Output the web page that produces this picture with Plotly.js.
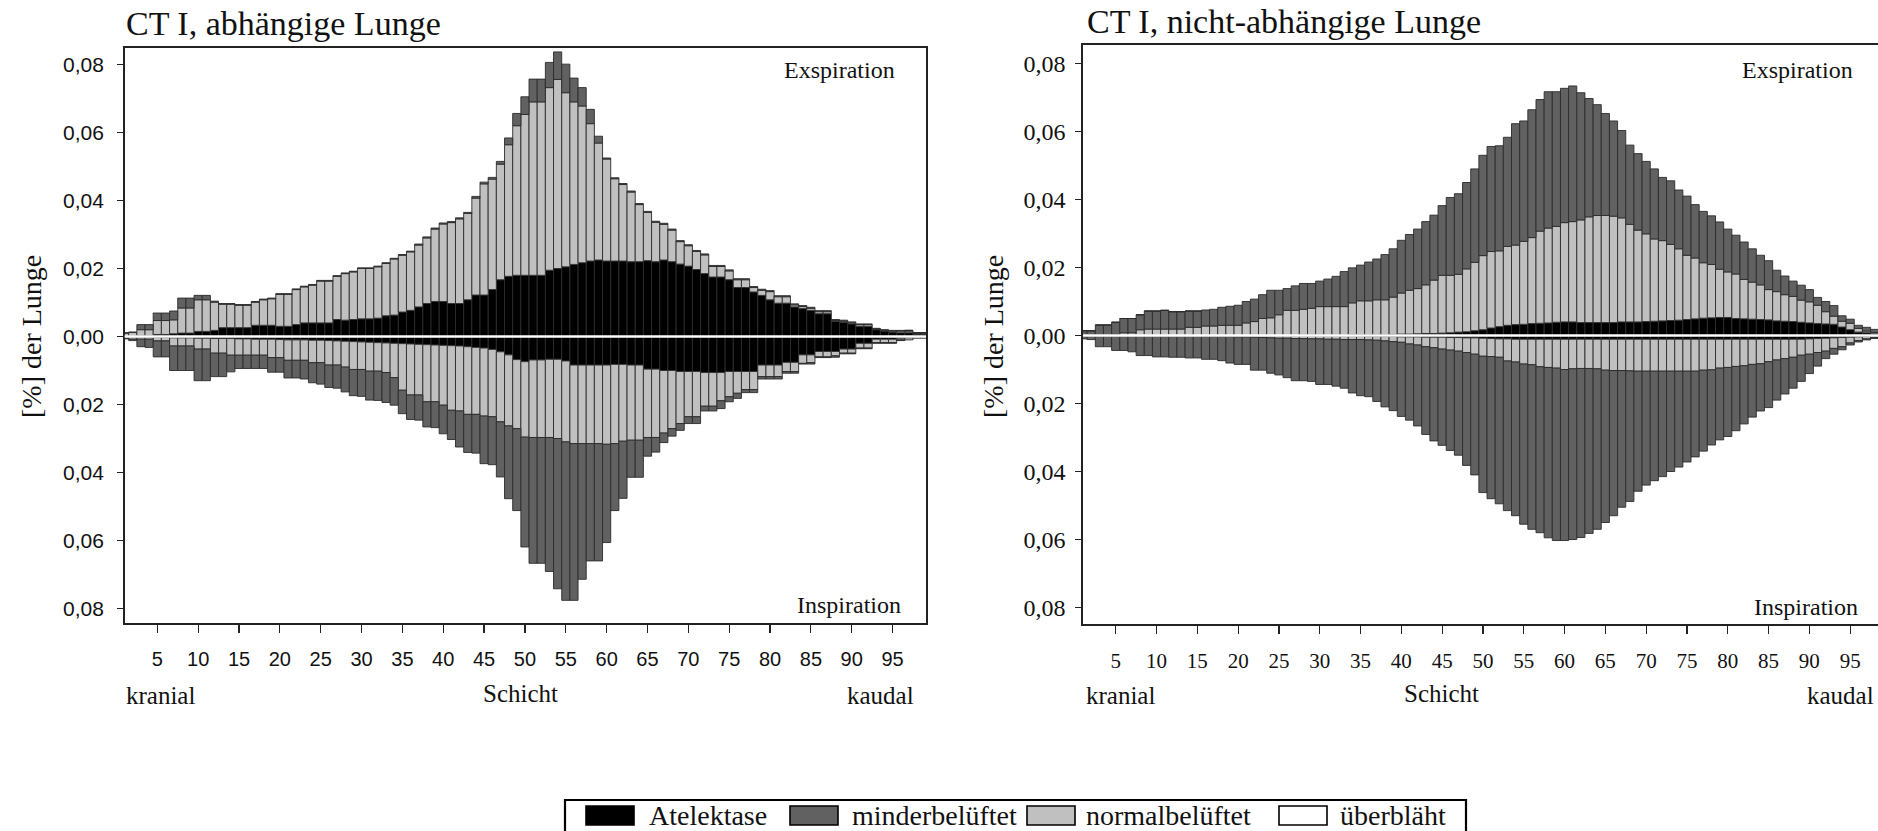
<!DOCTYPE html>
<html><head><meta charset="utf-8">
<script src="https://cdn.plot.ly/plotly-3.0.1.min.js"></script>
<style>html,body{margin:0;padding:0;background:#fff;}#chart{width:1878px;height:831px;}</style>
</head><body><div id="chart"></div>
<script>
// ---------- data (cumulative upper edges of the stacked segments, per slice 1..99) ----------
const seriesNames = ['Atelektase','minderbelüftet','normalbelüftet','überbläht'];
const xTickVals = [5,10,15,20,25,30,35,40,45,50,55,60,65,70,75,80,85,90,95];
const yTickVals = [-0.08,-0.06,-0.04,-0.02,0,0.02,0.04,0.06,0.08];
const yTickText = ['0,08','0,06','0,04','0,02','0,00','0,02','0,04','0,06','0,08'];

// left panel: CT I, abhängige Lunge — Exspiration (upwards)
const lExpA = [0.0001,0.0001,0.0002,0.0002,0.0006,0.0006,0.0008,0.0010,0.0010,0.0015,
0.0015,0.0018,0.0026,0.0026,0.0026,0.0026,0.0033,0.0033,0.0033,0.0030,
0.0030,0.0035,0.0040,0.0040,0.0040,0.0040,0.0050,0.0048,0.0050,0.0052,
0.0052,0.0054,0.0061,0.0063,0.0072,0.0077,0.0087,0.0097,0.0103,0.0103,
0.0097,0.0097,0.0108,0.0122,0.0122,0.0138,0.0167,0.0177,0.0180,0.0180,
0.0180,0.0180,0.0195,0.0200,0.0205,0.0212,0.0217,0.0222,0.0225,0.0222,
0.0222,0.0222,0.0220,0.0220,0.0223,0.0220,0.0225,0.0220,0.0213,0.0207,
0.0197,0.0185,0.0175,0.0175,0.0167,0.0144,0.0144,0.0131,0.0121,0.0108,
0.0098,0.0098,0.0087,0.0082,0.0077,0.0067,0.0067,0.0044,0.0042,0.0037,
0.0030,0.0030,0.0020,0.0016,0.0013,0.0011,0.0011,0.0007,0.0006];
const lExpN = [0.0010,0.0012,0.0020,0.0020,0.0047,0.0047,0.0049,0.0084,0.0084,0.0108,
0.0108,0.0101,0.0095,0.0095,0.0092,0.0092,0.0101,0.0108,0.0111,0.0124,
0.0124,0.0138,0.0146,0.0151,0.0163,0.0163,0.0177,0.0185,0.0190,0.0200,
0.0200,0.0205,0.0215,0.0228,0.0239,0.0249,0.0269,0.0290,0.0316,0.0331,
0.0335,0.0346,0.0362,0.0407,0.0449,0.0463,0.0507,0.0564,0.0620,0.0653,
0.0690,0.0690,0.0732,0.0756,0.0717,0.0690,0.0678,0.0626,0.0569,0.0522,
0.0464,0.0447,0.0425,0.0388,0.0365,0.0336,0.0330,0.0313,0.0279,0.0267,
0.0250,0.0240,0.0206,0.0206,0.0193,0.0167,0.0167,0.0144,0.0136,0.0132,
0.0117,0.0117,0.0093,0.0088,0.0083,0.0073,0.0073,0.0047,0.0045,0.0040,
0.0035,0.0035,0.0022,0.0018,0.0016,0.0016,0.0016,0.0010,0.0010];
const lExpM = [0.0011,0.0013,0.0035,0.0035,0.0069,0.0069,0.0075,0.0113,0.0113,0.0121,
0.0121,0.0104,0.0097,0.0097,0.0094,0.0094,0.0103,0.0110,0.0113,0.0126,
0.0126,0.0140,0.0148,0.0153,0.0165,0.0165,0.0179,0.0187,0.0192,0.0202,
0.0202,0.0207,0.0217,0.0230,0.0241,0.0251,0.0272,0.0293,0.0319,0.0334,
0.0338,0.0349,0.0365,0.0412,0.0454,0.0468,0.0515,0.0584,0.0656,0.0705,
0.0757,0.0757,0.0806,0.0837,0.0801,0.0760,0.0732,0.0668,0.0589,0.0525,
0.0467,0.0450,0.0428,0.0391,0.0368,0.0339,0.0333,0.0316,0.0282,0.0270,
0.0253,0.0243,0.0209,0.0209,0.0196,0.0170,0.0170,0.0147,0.0139,0.0135,
0.0120,0.0120,0.0096,0.0091,0.0086,0.0076,0.0076,0.0050,0.0048,0.0043,
0.0037,0.0037,0.0024,0.0020,0.0018,0.0018,0.0018,0.0011,0.0011];
// left panel — Inspiration (downwards, magnitudes)
const lInsA = [0.0002,0.0002,0.0002,0.0002,0.0003,0.0003,0.0004,0.0004,0.0004,0.0005,
0.0005,0.0006,0.0006,0.0006,0.0007,0.0007,0.0008,0.0008,0.0008,0.0009,
0.0010,0.0010,0.0010,0.0011,0.0011,0.0012,0.0013,0.0014,0.0015,0.0016,
0.0017,0.0018,0.0019,0.0020,0.0021,0.0022,0.0023,0.0024,0.0025,0.0026,
0.0027,0.0028,0.0030,0.0032,0.0034,0.0038,0.0045,0.0054,0.0068,0.0074,
0.0069,0.0069,0.0067,0.0067,0.0072,0.0084,0.0084,0.0084,0.0084,0.0084,
0.0082,0.0082,0.0084,0.0084,0.0096,0.0096,0.0100,0.0100,0.0103,0.0103,
0.0103,0.0106,0.0106,0.0106,0.0103,0.0103,0.0103,0.0103,0.0084,0.0084,
0.0084,0.0076,0.0076,0.0054,0.0054,0.0044,0.0044,0.0044,0.0037,0.0037,
0.0020,0.0020,0.0008,0.0008,0.0008,0.0005,0.0004,0.0002,0.0002];
const lInsN = [0.0005,0.0008,0.0008,0.0008,0.0013,0.0013,0.0028,0.0028,0.0028,0.0037,
0.0037,0.0049,0.0049,0.0055,0.0055,0.0055,0.0055,0.0055,0.0062,0.0062,
0.0070,0.0070,0.0070,0.0077,0.0077,0.0084,0.0084,0.0090,0.0097,0.0097,
0.0102,0.0102,0.0106,0.0121,0.0158,0.0172,0.0172,0.0192,0.0192,0.0202,
0.0217,0.0219,0.0229,0.0229,0.0234,0.0236,0.0251,0.0263,0.0271,0.0296,
0.0297,0.0297,0.0297,0.0300,0.0310,0.0315,0.0315,0.0315,0.0315,0.0317,
0.0315,0.0308,0.0305,0.0305,0.0297,0.0297,0.0284,0.0271,0.0256,0.0236,
0.0236,0.0205,0.0205,0.0189,0.0177,0.0167,0.0156,0.0156,0.0118,0.0118,
0.0118,0.0103,0.0103,0.0079,0.0077,0.0060,0.0060,0.0057,0.0049,0.0049,
0.0034,0.0034,0.0018,0.0018,0.0018,0.0010,0.0010,0.0005,0.0005];
const lInsM = [0.0007,0.0012,0.0030,0.0032,0.0060,0.0060,0.0100,0.0100,0.0100,0.0130,
0.0130,0.0118,0.0118,0.0104,0.0094,0.0094,0.0094,0.0094,0.0105,0.0105,
0.0122,0.0122,0.0125,0.0136,0.0140,0.0150,0.0152,0.0163,0.0174,0.0176,
0.0187,0.0188,0.0194,0.0202,0.0227,0.0244,0.0246,0.0266,0.0268,0.0286,
0.0303,0.0325,0.0341,0.0343,0.0374,0.0377,0.0413,0.0477,0.0512,0.0619,
0.0667,0.0667,0.0691,0.0742,0.0776,0.0776,0.0714,0.0660,0.0660,0.0606,
0.0512,0.0476,0.0414,0.0414,0.0352,0.0340,0.0312,0.0293,0.0276,0.0256,
0.0256,0.0219,0.0219,0.0212,0.0192,0.0182,0.0165,0.0165,0.0125,0.0125,
0.0125,0.0108,0.0108,0.0081,0.0081,0.0062,0.0062,0.0061,0.0051,0.0051,
0.0036,0.0036,0.0020,0.0020,0.0020,0.0012,0.0010,0.0005,0.0005];

// right panel: CT I, nicht-abhängige Lunge — Exspiration
const rExpA = [0,0,0,0,0,0,0,0,0,0,
0,0,0,0,0,0,0,0,0,0,
0,0,0,0,0,0,0,0.0001,0.0001,0.0001,
0.0001,0.0001,0.0001,0.0002,0.0002,0.0002,0.0002,0.0002,0.0003,0.0004,
0.0004,0.0005,0.0006,0.0006,0.0007,0.0008,0.0010,0.0011,0.0014,0.0017,
0.0022,0.0026,0.0030,0.0032,0.0033,0.0035,0.0036,0.0037,0.0039,0.0040,
0.0040,0.0038,0.0038,0.0038,0.0038,0.0038,0.0040,0.0040,0.0040,0.0041,
0.0042,0.0043,0.0044,0.0045,0.0047,0.0049,0.0051,0.0052,0.0053,0.0053,
0.0050,0.0049,0.0048,0.0047,0.0046,0.0043,0.0042,0.0041,0.0039,0.0037,
0.0035,0.0034,0.0033,0.0025,0.0017,0.0010,0.0008,0.0005,0.0003];
const rExpN = [0.0002,0.0002,0.0002,0.0002,0.0003,0.0008,0.0008,0.0017,0.0019,0.0019,
0.0019,0.0019,0.0019,0.0024,0.0024,0.0028,0.0028,0.0030,0.0030,0.0030,
0.0037,0.0041,0.0050,0.0052,0.0061,0.0074,0.0074,0.0077,0.0080,0.0085,
0.0085,0.0085,0.0085,0.0096,0.0102,0.0102,0.0105,0.0105,0.0113,0.0125,
0.0133,0.0138,0.0149,0.0163,0.0177,0.0177,0.0180,0.0196,0.0215,0.0235,
0.0247,0.0249,0.0262,0.0266,0.0277,0.0288,0.0307,0.0316,0.0321,0.0332,
0.0335,0.0340,0.0349,0.0353,0.0353,0.0351,0.0346,0.0327,0.0310,0.0299,
0.0284,0.0279,0.0268,0.0255,0.0236,0.0228,0.0214,0.0209,0.0195,0.0187,
0.0181,0.0165,0.0157,0.0149,0.0135,0.0129,0.0120,0.0115,0.0104,0.0099,
0.0089,0.0070,0.0057,0.0042,0.0036,0.0021,0.0013,0.0009,0.0006];
const rExpM = [0.0014,0.0014,0.0031,0.0031,0.0039,0.0050,0.0050,0.0061,0.0072,0.0072,
0.0074,0.0070,0.0070,0.0072,0.0072,0.0075,0.0077,0.0083,0.0086,0.0089,
0.0100,0.0107,0.0120,0.0133,0.0133,0.0138,0.0146,0.0153,0.0153,0.0160,
0.0166,0.0174,0.0188,0.0199,0.0207,0.0216,0.0225,0.0238,0.0255,0.0280,
0.0297,0.0313,0.0335,0.0354,0.0382,0.0406,0.0417,0.0450,0.0490,0.0530,
0.0556,0.0558,0.0583,0.0623,0.0631,0.0664,0.0694,0.0717,0.0717,0.0727,
0.0734,0.0714,0.0697,0.0679,0.0653,0.0631,0.0603,0.0560,0.0535,0.0512,
0.0490,0.0465,0.0455,0.0428,0.0410,0.0385,0.0365,0.0352,0.0334,0.0313,
0.0295,0.0275,0.0255,0.0236,0.0220,0.0192,0.0175,0.0160,0.0148,0.0135,
0.0112,0.0100,0.0088,0.0058,0.0048,0.0030,0.0024,0.0018,0.0012];
// right panel — Inspiration
const rInsA = [0.0002,0.0002,0.0002,0.0002,0.0002,0.0002,0.0002,0.0002,0.0002,0.0002,
0.0002,0.0002,0.0002,0.0002,0.0002,0.0002,0.0002,0.0002,0.0002,0.0002,
0.0002,0.0002,0.0002,0.0002,0.0002,0.0002,0.0002,0.0002,0.0002,0.0002,
0.0002,0.0002,0.0002,0.0002,0.0002,0.0003,0.0003,0.0003,0.0003,0.0004,
0.0004,0.0004,0.0005,0.0005,0.0005,0.0006,0.0006,0.0007,0.0007,0.0008,
0.0009,0.0010,0.0010,0.0011,0.0011,0.0011,0.0011,0.0011,0.0011,0.0011,
0.0011,0.0011,0.0011,0.0011,0.0011,0.0011,0.0011,0.0011,0.0011,0.0011,
0.0011,0.0011,0.0011,0.0011,0.0011,0.0011,0.0011,0.0011,0.0011,0.0011,
0.0011,0.0011,0.0011,0.0011,0.0011,0.0011,0.0011,0.0011,0.0011,0.0010,
0.0009,0.0008,0.0007,0.0006,0.0005,0.0004,0.0003,0.0002,0.0002];
const rInsN = [0.0002,0.0002,0.0002,0.0002,0.0002,0.0002,0.0002,0.0002,0.0002,0.0002,
0.0002,0.0002,0.0002,0.0002,0.0002,0.0003,0.0003,0.0003,0.0003,0.0004,
0.0004,0.0005,0.0006,0.0007,0.0008,0.0008,0.0009,0.0009,0.0010,0.0010,
0.0011,0.0011,0.0012,0.0012,0.0012,0.0013,0.0014,0.0016,0.0018,0.0020,
0.0025,0.0028,0.0033,0.0036,0.0040,0.0043,0.0046,0.0050,0.0055,0.0061,
0.0062,0.0064,0.0075,0.0078,0.0084,0.0086,0.0092,0.0094,0.0096,0.0100,
0.0098,0.0097,0.0097,0.0098,0.0102,0.0103,0.0103,0.0104,0.0105,0.0105,
0.0105,0.0105,0.0105,0.0105,0.0105,0.0105,0.0102,0.0101,0.0096,0.0094,
0.0091,0.0089,0.0085,0.0083,0.0077,0.0072,0.0068,0.0064,0.0058,0.0055,
0.0050,0.0046,0.0038,0.0033,0.0022,0.0015,0.0010,0.0006,0.0005];
const rInsM = [0.0010,0.0012,0.0033,0.0033,0.0044,0.0044,0.0048,0.0059,0.0059,0.0063,
0.0063,0.0064,0.0064,0.0066,0.0066,0.0070,0.0070,0.0074,0.0081,0.0085,
0.0085,0.0102,0.0102,0.0111,0.0116,0.0124,0.0133,0.0133,0.0135,0.0144,
0.0144,0.0149,0.0155,0.0169,0.0177,0.0180,0.0194,0.0210,0.0221,0.0238,
0.0249,0.0266,0.0291,0.0310,0.0323,0.0338,0.0352,0.0382,0.0410,0.0462,
0.0480,0.0495,0.0515,0.0530,0.0555,0.0570,0.0580,0.0595,0.0603,0.0603,
0.0600,0.0594,0.0582,0.0570,0.0550,0.0530,0.0505,0.0488,0.0458,0.0440,
0.0427,0.0415,0.0400,0.0387,0.0372,0.0357,0.0340,0.0322,0.0307,0.0297,
0.0280,0.0260,0.0240,0.0222,0.0212,0.0190,0.0172,0.0155,0.0135,0.0112,
0.0090,0.0068,0.0055,0.0042,0.0028,0.0019,0.0013,0.0009,0.0006];

const slices = lExpA.map((_, i) => i + 1);

// ---------- drawing ----------
const W = 1878, H = 831;
const px = x => x / W, py = y => 1 - y / H;
const fillOf = {'Atelektase':'#000000','minderbelüftet':'#616161','normalbelüftet':'#c0c0c0','überbläht':'#ffffff'};
const outline = '#2b2b2b';

function seg(hi, lo) { return hi.map((v, i) => Math.max(0, v - (lo ? lo[i] : 0))); }
function bars(vals, name, sign, xa, ya) {
  return {type:'bar', x:slices, y:vals.map(v => sign * v), width:1,
    marker:{color:fillOf[name], line:{color:outline, width:0.9}},
    xaxis:xa, yaxis:ya, name:name, showlegend:false, hoverinfo:'skip'};
}
function panel(eA, eN, eM, iA, iN, iM, xa, ya) {
  return [
    bars(seg(eA), 'Atelektase', 1, xa, ya),
    bars(seg(eN, eA), 'normalbelüftet', 1, xa, ya),
    bars(seg(eM, eN), 'minderbelüftet', 1, xa, ya),
    bars(seg(iA), 'Atelektase', -1, xa, ya),
    bars(seg(iN, iA), 'normalbelüftet', -1, xa, ya),
    bars(seg(iM, iN), 'minderbelüftet', -1, xa, ya)
  ];
}
const data = [].concat(
  panel(lExpA, lExpN, lExpM, lInsA, lInsN, lInsM, 'x', 'y'),
  panel(rExpA, rExpN, rExpM, rInsA, rInsN, rInsM, 'x2', 'y2')
);

const serif = 'Liberation Serif, Times New Roman, serif';
const sans = 'Liberation Sans, Arial, sans-serif';
const ink = '#111111';

function xAxis(domain, range, font, anchor) {
  return {domain, range, anchor, tickmode:'array', tickvals:xTickVals, ticktext:xTickVals.map(String),
    ticks:'outside', ticklen:8, tickwidth:1.2, tickcolor:'#222', ticklabelstandoff:9,
    showline:true, linecolor:'#222', linewidth:1.6, mirror:true,
    showgrid:false, zeroline:false, tickfont:font, fixedrange:true};
}
function yAxis(domain, range, font, anchor, mirror, standoff) {
  return {domain, range, anchor, tickmode:'array', tickvals:yTickVals, ticktext:yTickText,
    ticks:'outside', ticklen:6, tickwidth:1.2, tickcolor:'#222', ticklabelstandoff:standoff,
    showline:true, linecolor:'#222', linewidth:1.6, mirror:mirror,
    showgrid:false, zeroline:false, tickfont:font, fixedrange:true};
}

function txt(text, x, y, xanchor, size, extra) {
  return Object.assign({text, xref:'paper', yref:'paper', x:px(x), y:py(y), xanchor, yanchor:'middle',
    showarrow:false, font:{family:serif, size, color:ink}}, extra || {});
}

const annotations = [
  txt('CT I, abhängige Lunge', 124, 24, 'left', 34),
  txt('CT I, nicht-abhängige Lunge', 1085, 21, 'left', 34),
  txt('Exspiration', 897, 70, 'right', 24),
  txt('Inspiration', 903, 605, 'right', 24),
  txt('Exspiration', 1855, 70, 'right', 24),
  txt('Inspiration', 1860, 607, 'right', 24),
  txt('kranial', 124, 695, 'left', 25),
  txt('Schicht', 520, 693, 'center', 25),
  txt('kaudal', 916, 695, 'right', 25),
  txt('kranial', 1084, 695, 'left', 25),
  txt('Schicht', 1441, 693, 'center', 25),
  txt('kaudal', 1876, 695, 'right', 25),
  txt('[%] der Lunge', 31, 337, 'center', 28, {textangle:-90}),
  txt('[%] der Lunge', 993, 337, 'center', 28, {textangle:-90})
];

// legend drawn as a boxed row (swatch + label) in paper pixels
const legendX = [[586, 647], [790, 850], [1027, 1084], [1279, 1338]];
const shapes = [
  {type:'line', xref:'x domain', yref:'y', x0:0, x1:1, y0:0, y1:0, line:{color:'#ffffff', width:2.6}, layer:'above'},
  {type:'line', xref:'x2 domain', yref:'y2', x0:0, x1:1, y0:0, y1:0, line:{color:'#ffffff', width:2.6}, layer:'above'},
  {type:'rect', xref:'paper', yref:'paper', x0:px(565), x1:px(1466), y0:py(800), y1:py(845), line:{color:'#000', width:2.2}, fillcolor:'rgba(0,0,0,0)'}
];
seriesNames.forEach((name, i) => {
  const [sx, tx] = legendX[i];
  shapes.push({type:'rect', xref:'paper', yref:'paper', x0:px(sx), x1:px(sx + 48), y0:py(825), y1:py(806),
    fillcolor:fillOf[name], line:{color:'#000', width:1.6}});
  annotations.push(txt(name, tx, 815, 'left', 28));
});

const layout = {
  width:W, height:H, margin:{l:0, r:0, t:0, b:0}, paper_bgcolor:'#fff', plot_bgcolor:'#fff',
  barmode:'relative', bargap:0, showlegend:false,
  xaxis: xAxis([px(124.7), px(926)], [1.01, 99.09], {family:sans, size:20, color:ink}, 'y'),
  yaxis: yAxis([py(623), py(48)], [-0.08426, 0.08485], {family:sans, size:21, color:ink}, 'x', true, 9),
  xaxis2: xAxis([px(1083), 1], [0.99, 98.41], {family:serif, size:21, color:ink}, 'y2'),
  yaxis2: yAxis([py(624), py(45)], [-0.08485, 0.08544], {family:serif, size:24, color:ink}, 'x2', false, 5),
  annotations, shapes
};

Plotly.newPlot('chart', data, layout, {displayModeBar:false, staticPlot:true});
</script></body></html>
